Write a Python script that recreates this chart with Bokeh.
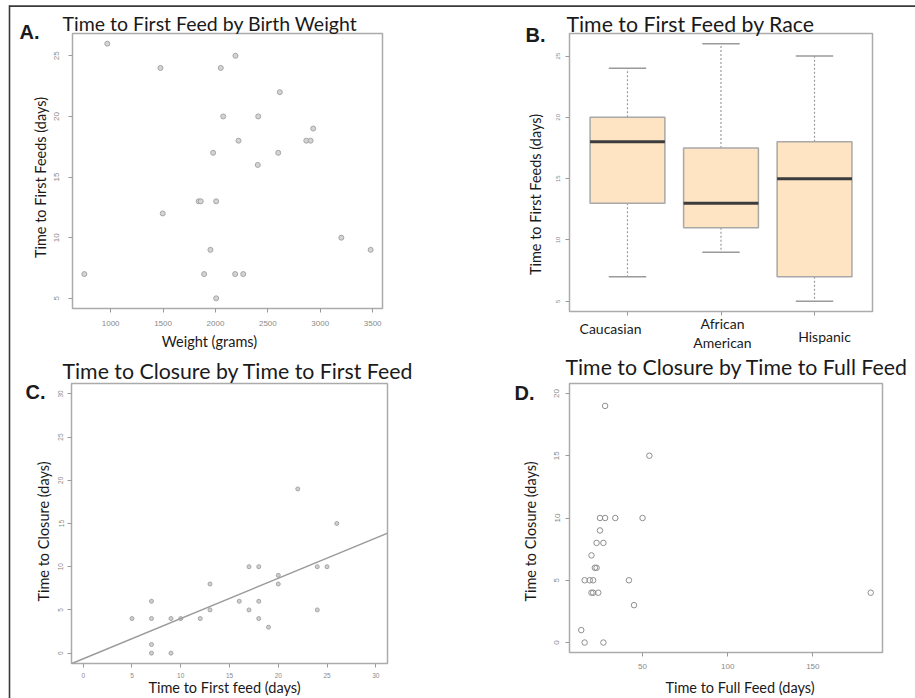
import math
from bokeh.plotting import figure
from bokeh.models import (Range1d, FixedTicker, Label, Slope, BoxAnnotation, GridBox)
from bokeh.embed import file_html
from bokeh.resources import INLINE

# ---------------- data ----------------
# A. Time to first feed by birth weight
birth_weight_g = [968, 1475, 2051, 2191, 2614, 2074, 2408, 2220, 1978, 2599, 2404,
                  1840, 1860, 2007, 1497, 3201, 3481, 1952, 749, 1892, 2188, 2265,
                  2007, 2933, 2867, 2908]
first_feed_days_a = [26, 24, 24, 25, 22, 20, 20, 18, 17, 17, 16,
                     13, 13, 13, 12, 10, 9, 9, 7, 7, 7, 7,
                     5, 19, 18, 18]

# B. Time to first feed by race (box plot statistics)
races = ["Caucasian", "African\nAmerican", "Hispanic"]
whisker_low = [7, 9, 5]
quart_1 = [13, 11, 7]
medians = [18, 13, 15]
quart_3 = [20, 17.5, 18]
whisker_high = [24, 26, 25]

# C. Time to closure by time to first feed
first_feed_days_c = [22, 26, 17, 18, 24, 25, 20, 20, 13, 7, 16, 18, 13, 17, 24,
                     5, 7, 9, 10, 12, 18, 19, 7, 7, 9]
closure_days_c = [19, 15, 10, 10, 10, 10, 9, 8, 8, 6, 6, 6, 5, 5, 5,
                  4, 4, 4, 4, 4, 4, 3, 1, 0, 0]
fit_intercept = -0.66
fit_slope = 0.466

# D. Time to closure by time to full feed
full_feed_days_d = [184, 50, 34, 28, 25, 25, 23, 27, 20, 22, 23, 16, 19, 21, 42,
                    20, 21, 24, 45, 28, 54, 14, 16, 27]
closure_days_d = [4, 10, 10, 10, 10, 9, 8, 8, 7, 6, 6, 5, 5, 5, 5,
                  4, 4, 4, 3, 19, 15, 1, 0, 0]

# ---------------- layout specs (reference pixel geometry) ----------------
PAGE_W, PAGE_H = 915, 698
PANELS = {
    "A": dict(fig=(0, 0, 460, 350), frame=(72, 33, 382, 308), xr=(636, 3594), yr=(4.16, 26.84)),
    "B": dict(fig=(460, 0, 455, 350), frame=(569, 33, 872, 311), xr=(0.38, 3.62), yr=(4.16, 26.84)),
    "C": dict(fig=(0, 350, 460, 348), frame=(71, 383, 387, 663), xr=(-1.2, 31.2), yr=(-1.2, 31.2)),
    "D": dict(fig=(460, 350, 455, 348), frame=(569, 383, 882, 652), xr=(7.1, 190.9), yr=(-0.8, 20.8)),
}

TXT = "#1a1a1a"
TICK_TXT = "#8a8a8a"


def make_fig(spec):
    fx, fy, fw, fh = spec["fig"]
    l, t, r, b = spec["frame"]
    p = figure(width=fw, height=fh,
               x_range=Range1d(*spec["xr"]), y_range=Range1d(*spec["yr"]),
               output_backend="svg", toolbar_location=None, title=None,
               frame_align=False,
               min_border_left=l - fx, min_border_right=fx + fw - r,
               min_border_top=t - fy, min_border_bottom=fy + fh - b)
    p.grid.visible = False
    p.outline_line_color = "#ababab"
    p.outline_line_width = 1.5
    p.axis.axis_line_color = None
    p.axis.major_tick_line_color = "#9a9a9a"
    p.axis.major_tick_out = 4
    p.axis.major_tick_in = 0
    p.axis.minor_tick_line_color = None
    p.axis.major_label_text_font = "Liberation Sans"
    p.axis.major_label_text_color = TICK_TXT
    p.yaxis.major_label_orientation = "vertical"
    p.background_fill_color = "white"
    p.border_fill_color = "white"
    return p


# ---------------- Panel A ----------------
pA = make_fig(PANELS["A"])
pA.xaxis.ticker = FixedTicker(ticks=[1000, 1500, 2000, 2500, 3000, 3500])
pA.yaxis.ticker = FixedTicker(ticks=[5, 10, 15, 20, 25])
pA.axis.major_label_text_font_size = "8px"
pA.xaxis.major_label_standoff = 8
pA.yaxis.major_label_standoff = 9
pA.scatter(birth_weight_g, first_feed_days_a, size=5, marker="circle",
           line_color="#a6a6a6", fill_color="#d4d4d4", line_width=1)

# ---------------- Panel B ----------------
pB = make_fig(PANELS["B"])
xs = list(range(1, len(races) + 1))
pB.xaxis.ticker = FixedTicker(ticks=xs)
pB.xaxis.major_label_overrides = {x: "" for x in xs}
pB.yaxis.ticker = FixedTicker(ticks=[5, 10, 15, 20, 25])
pB.yaxis.major_label_text_font_size = "6px"
pB.yaxis.major_label_standoff = 5
box_w = 0.8
pB.segment(x0=xs, y0=quart_3, x1=xs, y1=whisker_high, line_color="#9a9a9a",
           line_width=1.2, line_dash="2 2")
pB.segment(x0=xs, y0=quart_1, x1=xs, y1=whisker_low, line_color="#9a9a9a",
           line_width=1.2, line_dash="2 2")
pB.segment(x0=[x - box_w / 4 for x in xs], y0=whisker_high,
           x1=[x + box_w / 4 for x in xs], y1=whisker_high,
           line_color="#9a9a9a", line_width=1.5)
pB.segment(x0=[x - box_w / 4 for x in xs], y0=whisker_low,
           x1=[x + box_w / 4 for x in xs], y1=whisker_low,
           line_color="#9a9a9a", line_width=1.5)
pB.vbar(x=xs, width=box_w, bottom=quart_1, top=quart_3,
        fill_color="#FFE4C4", line_color="#a8a8a8", line_width=1.5)
pB.segment(x0=[x - box_w / 2 for x in xs], y0=medians,
           x1=[x + box_w / 2 for x in xs], y1=medians,
           line_color="#3c3c3c", line_width=3)

# ---------------- Panel C ----------------
pC = make_fig(PANELS["C"])
pC.xaxis.ticker = FixedTicker(ticks=[0, 5, 10, 15, 20, 25, 30])
pC.yaxis.ticker = FixedTicker(ticks=[0, 5, 10, 15, 20, 25, 30])
pC.axis.major_label_text_font_size = "6.5px"
pC.xaxis.major_label_standoff = 5
pC.yaxis.major_label_standoff = 4
pC.scatter(first_feed_days_c, closure_days_c, size=4, marker="circle",
           line_color="#a6a6a6", fill_color="#cfcfcf", line_width=1)
pC.add_layout(Slope(gradient=fit_slope, y_intercept=fit_intercept,
                    line_color="#9a9a9a", line_width=1.5))

# ---------------- Panel D ----------------
pD = make_fig(PANELS["D"])
pD.xaxis.ticker = FixedTicker(ticks=[50, 100, 150])
pD.yaxis.ticker = FixedTicker(ticks=[0, 5, 10, 15, 20])
pD.axis.major_label_text_font_size = "8px"
pD.xaxis.major_label_standoff = 7
pD.yaxis.major_label_standoff = 6
pD.scatter(full_feed_days_d, closure_days_d, size=5.5, marker="circle",
           line_color="#8f8f8f", fill_color=None, line_width=1)

# ---------------- transparent text overlay (page pixel coordinates) ----------------
pT = figure(width=PAGE_W, height=PAGE_H, x_range=Range1d(0, PAGE_W),
            y_range=Range1d(PAGE_H, 0), x_axis_type=None, y_axis_type=None,
            output_backend="svg", toolbar_location=None, title=None,
            frame_align=False,
            min_border=0, min_border_left=0, min_border_right=0,
            min_border_top=0, min_border_bottom=0)
pT.grid.visible = False
pT.outline_line_color = None
pT.background_fill_color = None
pT.border_fill_color = None


def put(text, px, py, size, align="left", baseline="middle",
        angle=0.0, font="Lato", style="normal", color=TXT):
    pT.add_layout(Label(x=px, y=py, text=text, text_font=font,
                        text_font_size=f"{size}px", text_align=align,
                        text_baseline=baseline, angle=angle,
                        text_color=color, text_font_style=style))


def rule(x0, y0, x1, y1):
    pT.add_layout(BoxAnnotation(left=x0, right=x1, top=y0, bottom=y1,
                                fill_color="#3a3a3a", fill_alpha=1.0,
                                line_color=None))


# page border (top and left rules)
rule(9, 4.8, PAGE_W, 6.4)
rule(8.2, 4.8, 9.8, PAGE_H)

ROT = math.pi / 2
AX = 14.5
# A
put("A.", 19, 31, 20, font="Liberation Sans", style="bold")
put("Time to First Feed by Birth Weight", 62, 22.5, 19.5)
put("Time to First Feeds (days)", 40, 177, AX, align="center", angle=ROT)
put("Weight (grams)", 209, 341, AX, align="center")
# B
put("B.", 525, 34, 20, font="Liberation Sans", style="bold")
put("Time to First Feed by Race", 566, 23, 21.3)
put("Time to First Feeds (days)", 535, 194, AX, align="center", angle=ROT)
race_label_pos = [(610, [328]), (722, [323, 341.5]), (824, [336])]
for name, (cx, lines_y) in zip(races, race_label_pos):
    for part, ly in zip(name.split("\n"), lines_y):
        put(part, cx, ly, 14, align="center")
# C
put("C.", 25, 391, 20, font="Liberation Sans", style="bold")
put("Time to Closure by Time to First Feed", 62, 370.5, 21.3)
put("Time to Closure (days)", 43, 531, AX, align="center", angle=ROT)
put("Time to First feed (days)", 224, 687, AX, align="center")
# D
put("D.", 514, 392, 20, font="Liberation Sans", style="bold")
put("Time to Closure by Time to Full Feed", 565, 366.5, 21.3)
put("Time to Closure (days)", 530, 531, AX, align="center", angle=ROT)
put("Time to Full Feed (days)", 739.5, 687, AX, align="center")

layout = GridBox(children=[(pA, 0, 0), (pB, 0, 1), (pC, 1, 0), (pD, 1, 1),
                           (pT, 0, 0, 2, 2)], spacing=0)

open("out.html", "w").write(file_html(layout, INLINE))
